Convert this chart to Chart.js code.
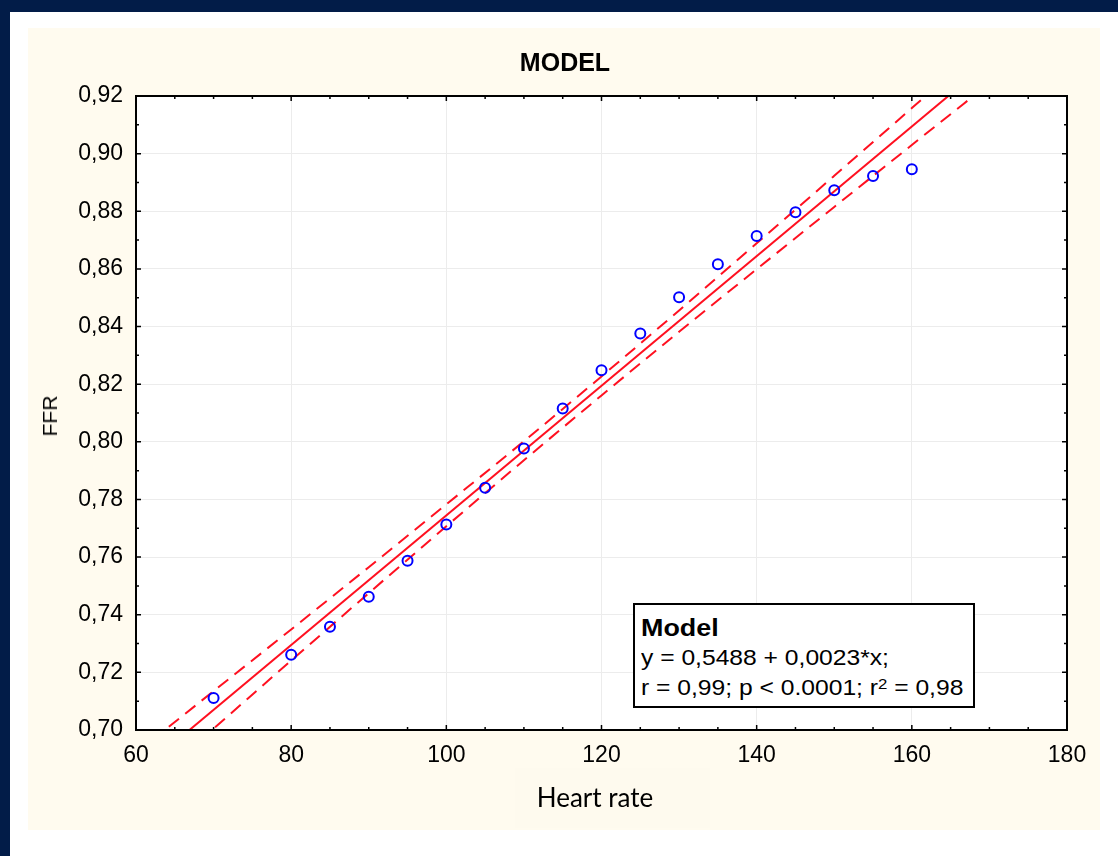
<!DOCTYPE html>
<html lang="en">
<head>
  <meta charset="UTF-8">
  <title>MODEL</title>
  <script src="https://cdn.jsdelivr.net/npm/chart.js"></script>
  <style>
    body { margin: 0; width: 1118px; height: 856px; overflow: hidden; background: #021c48; position: relative; font-family: "Liberation Sans", Arial, sans-serif; }
    #page { position: absolute; left: 10px; top: 12px; right: 0; bottom: 0; background: #fff; }
    #panel { position: absolute; left: 28px; top: 28px; width: 1072px; height: 802px; background: #fffbef; }
    #xbox { position: absolute; left: 515px; top: 768px; width: 195px; height: 60px; background: #fefaee; }
    canvas { position: absolute; left: 0; top: 0; }
    #ylabel { position: absolute; left: 50px; top: 416px; transform: translate(-50%, -50%) rotate(-90deg); font-size: 21px; color: #000; white-space: nowrap; }
    #xlabel { position: absolute; left: 595px; top: 797px; transform: translate(-50%, -50%); font-family: Lato, "Open Sans", sans-serif; font-size: 26px; color: #000; white-space: nowrap; }
    #stats { position: absolute; left: 633px; top: 603px; width: 342px; height: 105px; box-sizing: border-box; border: 2px solid #000; background: #fff; padding: 8px 0 0 6px; }
    #stats div { line-height: 30px; height: 30px; white-space: nowrap; }
    #stats span.s { display: inline-block; transform: scaleX(1.12); transform-origin: left center; font-size: 22px; }
    #stats .head span.s { font-weight: bold; font-size: 24px; }
    sup { font-size: 15px; position: relative; top: -4px; vertical-align: top; }
  </style>
</head>
<body>
<div id="page"></div>
<div id="panel"></div>
<div id="xbox"></div>
<canvas id="chart" width="1118" height="856"></canvas>
<div id="ylabel">FFR</div>
<div id="xlabel">Heart rate</div>
<div id="stats">
  <div class="head"><span class="s">Model</span></div>
  <div><span class="s">y = 0,5488 + 0,0023*x;</span></div>
  <div><span class="s">r = 0,99; p &lt; 0.0001; r<sup>2</sup> = 0,98</span></div>
</div>

<script>
// observed points
const heartRate = [70, 80, 85, 90, 95, 100, 105, 110, 115, 120, 125, 130, 135, 140, 145, 150, 155, 160];
const ffr = [0.7111, 0.7261, 0.7358, 0.7462, 0.7587, 0.7713, 0.7841, 0.7977, 0.8116, 0.8248,
             0.8376, 0.8502, 0.8616, 0.8714, 0.8797, 0.8873, 0.8922, 0.8946];

// regression line (ends)
const fitX = [60, 180];
const fitY = [0.6845, 0.9544];

// confidence band (dashed)
const bandX = [60, 70, 80, 90, 100, 110, 120, 130, 140, 150, 160, 170, 180];
const bandUpper = [0.6920, 0.7135, 0.7349, 0.7565, 0.7783, 0.8002, 0.8227, 0.8456, 0.8689, 0.8923, 0.9158, 0.9394, 0.9630];
const bandLower = [0.6770, 0.7005, 0.7241, 0.7475, 0.7707, 0.7936, 0.8161, 0.8382, 0.8599, 0.8815, 0.9030, 0.9244, 0.9458];

const red = "#ff1020";
const blue = "#0000ff";

const toXY = (xs, ys) => xs.map((x, i) => ({ x: x, y: ys[i] }));

// white plot area
const plotBg = {
  id: "plotBg",
  beforeDraw(chart) {
    const { ctx, chartArea: a } = chart;
    ctx.save();
    ctx.fillStyle = "#ffffff";
    ctx.fillRect(a.left, a.top, a.right - a.left, a.bottom - a.top);
    ctx.restore();
  }
};

// frame and inward tick marks on all four sides
const frameTicks = {
  id: "frameTicks",
  afterDatasetsDraw(chart) {
    const { ctx, chartArea: a, scales: { x, y } } = chart;
    ctx.save();
    ctx.strokeStyle = "#000";
    ctx.lineWidth = 1.5;
    ctx.beginPath();
    x.ticks.forEach(t => {
      const p = x.getPixelForValue(t.value);
      const len = t.value % 20 === 0 ? 5 : 3;
      ctx.moveTo(p, a.bottom); ctx.lineTo(p, a.bottom - len);
      ctx.moveTo(p, a.top); ctx.lineTo(p, a.top + len);
    });
    y.ticks.forEach(t => {
      const p = y.getPixelForValue(t.value);
      const len = Math.round(t.value * 100) % 2 === 0 ? 5 : 3;
      ctx.moveTo(a.left, p); ctx.lineTo(a.left + len, p);
      ctx.moveTo(a.right, p); ctx.lineTo(a.right - len, p);
    });
    ctx.stroke();
    ctx.lineWidth = 2;
    ctx.strokeRect(a.left, a.top, a.right - a.left, a.bottom - a.top);
    ctx.restore();
  }
};

Chart.defaults.font.family = '"Liberation Sans", Arial, sans-serif';
Chart.defaults.color = "#000";

new Chart(document.getElementById("chart"), {
  type: "scatter",
  data: {
    datasets: [
      { label: "FFR", data: toXY(heartRate, ffr), pointStyle: "circle", pointRadius: 5, pointBorderWidth: 2,
        borderColor: blue, backgroundColor: "rgba(0,0,0,0)", showLine: false },
      { label: "fit", data: toXY(fitX, fitY), showLine: true, borderColor: red, borderWidth: 2, pointRadius: 0 },
      { label: "upper", data: toXY(bandX, bandUpper), showLine: true, borderColor: red, borderWidth: 2,
        borderDash: [13, 8], pointRadius: 0, cubicInterpolationMode: "monotone" },
      { label: "lower", data: toXY(bandX, bandLower), showLine: true, borderColor: red, borderWidth: 2,
        borderDash: [13, 8], pointRadius: 0, cubicInterpolationMode: "monotone" }
    ]
  },
  options: {
    responsive: false,
    animation: false,
    layout: { padding: { left: 63, right: 51, top: 0, bottom: 0 } },
    plugins: {
      legend: { display: false },
      tooltip: { enabled: false },
      title: {
        display: true,
        text: "MODEL",
        font: { size: 25, weight: "bold", lineHeight: 1.2 },
        color: "#000",
        padding: { top: 49.5, bottom: 16.5 }
      }
    },
    scales: {
      x: {
        type: "linear",
        min: 60, max: 180,
        afterFit: s => { s.height = 126; },
        border: { display: false },
        grid: {
          drawTicks: false,
          color: c => (c.tick && c.tick.value % 20 === 0 && c.tick.value > 60 && c.tick.value < 180) ? "#ececec" : "rgba(0,0,0,0)"
        },
        ticks: {
          stepSize: 5,
          autoSkip: false,
          maxRotation: 0,
          padding: 12,
          font: { size: 23 },
          callback: v => (v % 20 === 0 ? String(v) : "")
        }
      },
      y: {
        type: "linear",
        min: 0.70, max: 0.92,
        afterFit: s => { s.width = 73; },
        border: { display: false },
        grid: {
          drawTicks: false,
          color: c => {
            if (!c.tick) return "rgba(0,0,0,0)";
            const n = Math.round(c.tick.value * 100);
            return (n % 2 === 0 && n > 70 && n < 92) ? "#ececec" : "rgba(0,0,0,0)";
          }
        },
        ticks: {
          stepSize: 0.01,
          autoSkip: false,
          padding: 13,
          font: { size: 23 },
          callback: v => (Math.round(v * 100) % 2 === 0 ? v.toFixed(2).replace(".", ",") : "")
        }
      }
    }
  },
  plugins: [plotBg, frameTicks]
});
</script>
</body>
</html>
